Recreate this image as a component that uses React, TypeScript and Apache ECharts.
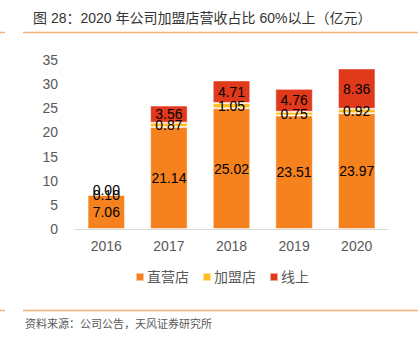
import React, { useEffect, useRef } from "react";
import * as echarts from "echarts";

const categories = ["2016", "2017", "2018", "2019", "2020"];
const directStores = [7.06, 21.14, 25.02, 23.51, 23.97];
const franchiseStores = [0.1, 0.87, 1.05, 0.75, 0.92];
const online = [0.0, 3.56, 4.71, 4.76, 8.36];
const seriesNames = ["直营店", "加盟店", "线上"];
const colors = ["#F5821F", "#FDBE1F", "#E0391C"];

export default function App() {
  const ref = useRef<HTMLDivElement>(null);
  useEffect(() => {
    const chart = echarts.init(ref.current!, null, { renderer: "svg" });
    const font = "'Liberation Sans', 'Noto Sans CJK SC', sans-serif";
    const dataSets = [directStores, franchiseStores, online];
    chart.setOption({
      animation: false,
      textStyle: { fontFamily: font },
      grid: { left: 75, right: 30, top: 60, bottom: 110 },
      legend: {
        data: seriesNames,
        top: 265,
        left: 130,
        itemWidth: 8,
        itemHeight: 8,
        itemGap: 13,
        icon: "rect",
        textStyle: { fontSize: 14, color: "#595959", fontFamily: font, padding: [0, 0, 0, -2] },
      },
      xAxis: {
        type: "category",
        data: categories,
        axisLine: { lineStyle: { color: "#D9D9D9" } },
        axisTick: { show: false },
        axisLabel: { fontSize: 14, color: "#595959", margin: 10 },
      },
      yAxis: {
        type: "value",
        min: 0,
        max: 35,
        interval: 5,
        splitLine: { show: false },
        axisLine: { show: false },
        axisTick: { show: false },
        axisLabel: { fontSize: 14, color: "#595959", margin: 17 },
      },
      series: dataSets.map((d, i) => ({
        name: seriesNames[i],
        type: "bar",
        stack: "total",
        barWidth: "60%",
        data: d.map((v) =>
          i === 2 && v === 0 ? { value: v, label: { offset: [0, -4] } } : v
        ),
        itemStyle: {
          color: colors[i],
          borderColor: "rgba(255,255,255,0.55)",
          borderWidth: 1,
        },
        label: {
          show: true,
          position: "inside",
          fontSize: 14,
          color: "#000",
          fontFamily: font,
          formatter: (p: any) => Number(p.value).toFixed(2),
        },
      })),
      graphic: [
        {
          type: "text",
          left: 33,
          top: 11,
          style: {
            text: "图 28：2020 年公司加盟店营收占比 60%以上（亿元）",
            fontSize: 14,
            fill: "#333",
            fontFamily: font,
          },
        },
        { type: "line", shape: { x1: 0, y1: 32.5, x2: 5, y2: 32.5 }, style: { stroke: "#F7B27A", lineWidth: 1.5 } },
        { type: "line", shape: { x1: 23, y1: 32.5, x2: 418, y2: 32.5 }, style: { stroke: "#F7B27A", lineWidth: 1.5 } },
        { type: "line", shape: { x1: 0, y1: 310.5, x2: 5, y2: 310.5 }, style: { stroke: "#F7B27A", lineWidth: 1.5 } },
        { type: "line", shape: { x1: 23, y1: 310.5, x2: 418, y2: 310.5 }, style: { stroke: "#F7B27A", lineWidth: 1.5 } },
        {
          type: "text",
          left: 25,
          top: 318,
          style: {
            text: "资料来源：公司公告，天风证券研究所",
            fontSize: 11,
            fill: "#595959",
            fontFamily: font,
          },
        },
      ],
    });
    return () => chart.dispose();
  }, []);
  return <div ref={ref} style={{ width: 418, height: 339, position: "absolute", left: 0, top: 0 }} />;
}
